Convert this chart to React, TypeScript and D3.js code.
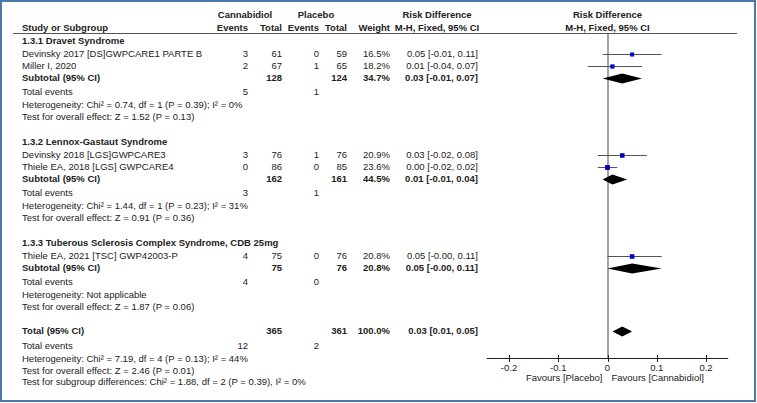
import React from "react";
import * as d3 from "d3";

// ---------- data ----------
const groupTitles = [
  "1.3.1 Dravet Syndrome",
  "1.3.2 Lennox-Gastaut Syndrome",
  "1.3.3 Tuberous Sclerosis Complex Syndrome, CDB 25mg",
];

const studyNames = [
  "Devinsky 2017 [DS]GWPCARE1 PARTE B",
  "Miller I, 2020",
  "Devinsky 2018 [LGS]GWPCARE3",
  "Thiele EA, 2018 [LGS] GWPCARE4",
  "Thiele EA, 2021 [TSC] GWP42003-P",
];
const studyGroup = [0, 0, 1, 1, 2];
const cbdEvents = [3, 2, 3, 0, 4];
const cbdTotal = [61, 67, 76, 86, 75];
const plcEvents = [0, 1, 1, 0, 0];
const plcTotal = [59, 65, 76, 85, 76];
const studyWeight = [16.5, 18.2, 20.9, 23.6, 20.8];
const studyRD = [0.05, 0.01, 0.03, 0.0, 0.05];
const studyLo = [-0.01, -0.04, -0.02, -0.02, -0.0];
const studyHi = [0.11, 0.07, 0.08, 0.02, 0.11];

const subCbdTotal = [128, 162, 75];
const subPlcTotal = [124, 161, 76];
const subWeight = [34.7, 44.5, 20.8];
const subRD = [0.03, 0.01, 0.05];
const subLo = [-0.01, -0.01, -0.0];
const subHi = [0.07, 0.04, 0.11];
const subCbdEvents = [5, 3, 4];
const subPlcEvents = [1, 1, 0];
const subHet = [
  "Heterogeneity: Chi² = 0.74, df = 1 (P = 0.39); I² = 0%",
  "Heterogeneity: Chi² = 1.44, df = 1 (P = 0.23); I² = 31%",
  "Heterogeneity: Not applicable",
];
const subTest = [
  "Test for overall effect: Z = 1.52 (P = 0.13)",
  "Test for overall effect: Z = 0.91 (P = 0.36)",
  "Test for overall effect: Z = 1.87 (P = 0.06)",
];

const totalCbdTotal = 365;
const totalPlcTotal = 361;
const totalWeight = 100.0;
const totalRD = 0.03;
const totalLo = 0.01;
const totalHi = 0.05;
const totalCbdEvents = 12;
const totalPlcEvents = 2;
const totalHet = "Heterogeneity: Chi² = 7.19, df = 4 (P = 0.13); I² = 44%";
const totalTest = "Test for overall effect: Z = 2.46 (P = 0.01)";
const subgroupTest = "Test for subgroup differences: Chi² = 1.88, df = 2 (P = 0.39), I² = 0%";

const axisTicks = [-0.2, -0.1, 0, 0.1, 0.2];
const favoursLeft = "Favours [Placebo]";
const favoursRight = "Favours [Cannabidiol]";

// ---------- helpers ----------
const f2 = (v: number) => (v < 0 || Object.is(v, -0) ? "-" : "") + Math.abs(v).toFixed(2);
const ciText = (rd: number, lo: number, hi: number) => `${f2(rd)} [${f2(lo)}, ${f2(hi)}]`;
const tickFmt = (v: number) => (v === 0 ? "0" : String(v));

const FONT = "'Liberation Sans', Arial, sans-serif";
const FS = 9.5;
const TXT = "#222";

// column anchors (layout)
const COL = {
  left: 22,
  cbdEv: 248,
  cbdTot: 282,
  plcEv: 319,
  plcTot: 347,
  weight: 390,
  ci: 478,
  ciCenter: 437,
};

type Row =
  | { kind: "group"; g: number }
  | { kind: "study"; i: number }
  | { kind: "sub"; g: number }
  | { kind: "te"; g: number }
  | { kind: "het"; g: number }
  | { kind: "test"; g: number }
  | { kind: "total" }
  | { kind: "tte" }
  | { kind: "thet" }
  | { kind: "ttest" }
  | { kind: "sgtest" };

function buildRows() {
  const rows: { row: Row; y: number }[] = [];
  let y = 41;
  let prev: string | null = null;
  const step: Record<string, number> = {
    "group>study": 13,
    "study>study": 12,
    "study>sub": 12,
    "sub>te": 14,
    "te>het": 13,
    "het>test": 12,
    "test>group": 25,
    "test>total": 24,
    "total>tte": 15,
    "tte>thet": 13,
    "thet>ttest": 12,
    "ttest>sgtest": 11,
  };
  const push = (row: Row) => {
    if (prev !== null) y += step[`${prev}>${row.kind}`] ?? 12;
    rows.push({ row, y });
    prev = row.kind;
  };
  groupTitles.forEach((_, g) => {
    push({ kind: "group", g });
    studyNames.forEach((_, i) => {
      if (studyGroup[i] === g) push({ kind: "study", i });
    });
    push({ kind: "sub", g });
    push({ kind: "te", g });
    push({ kind: "het", g });
    push({ kind: "test", g });
  });
  push({ kind: "total" });
  push({ kind: "tte" });
  push({ kind: "thet" });
  push({ kind: "ttest" });
  push({ kind: "sgtest" });
  return rows;
}

function T(props: {
  x: number;
  y: number;
  anchor?: "start" | "middle" | "end";
  bold?: boolean;
  children: React.ReactNode;
}) {
  return (
    <text
      x={props.x}
      y={props.y}
      dy="0.35em"
      textAnchor={props.anchor ?? "end"}
      fontWeight={props.bold ? "bold" : "normal"}
      fill={TXT}
    >
      {props.children}
    </text>
  );
}

export default function App() {
  const W = 757;
  const H = 403;
  const x = d3.scaleLinear().domain([-0.2, 0.2]).range([509, 706]);
  const headerLineY = 33;
  const axisY = 358;
  const rows = buildRows();

  const diamond = (rd: number, lo: number, hi: number, cy: number, h = 5) => {
    const p = d3.path();
    p.moveTo(x(lo), cy);
    p.lineTo(x(rd), cy - h);
    p.lineTo(x(hi), cy);
    p.lineTo(x(rd), cy + h);
    p.closePath();
    return p.toString();
  };

  return (
    <svg
      width={W}
      height={H}
      style={{ position: "absolute", left: 0, top: 0, background: "#fff" }}
      fontFamily={FONT}
      fontSize={FS}
    >
      <rect x={1} y={1} width={W - 3} height={H - 3} fill="#fff" stroke="#4a78aa" strokeWidth={2} />

      {/* headers */}
      <T x={245} y={15} anchor="middle" bold>Cannabidiol</T>
      <T x={316} y={15} anchor="middle" bold>Placebo</T>
      <T x={COL.ciCenter} y={15} anchor="middle" bold>Risk Difference</T>
      <T x={x(0)} y={15} anchor="middle" bold>Risk Difference</T>
      <T x={COL.left} y={28} anchor="start" bold>Study or Subgroup</T>
      <T x={COL.cbdEv} y={28} bold>Events</T>
      <T x={COL.cbdTot} y={28} bold>Total</T>
      <T x={COL.plcEv} y={28} bold>Events</T>
      <T x={COL.plcTot} y={28} bold>Total</T>
      <T x={COL.weight} y={28} bold>Weight</T>
      <T x={COL.ciCenter} y={28} anchor="middle" bold>M-H, Fixed, 95% CI</T>
      <T x={x(0)} y={28} anchor="middle" bold>M-H, Fixed, 95% CI</T>
      <line x1={13} x2={737} y1={headerLineY + 0.5} y2={headerLineY + 0.5} stroke="#555" />

      {/* zero line */}
      <line x1={x(0) + 0.5} x2={x(0) + 0.5} y1={headerLineY} y2={axisY} stroke="#444" />

      {rows.map(({ row, y }, k) => {
        switch (row.kind) {
          case "group":
            return <T key={k} x={COL.left} y={y} anchor="start" bold>{groupTitles[row.g]}</T>;
          case "study": {
            const i = row.i;
            const s = Math.sqrt(studyWeight[i]);
            return (
              <g key={k}>
                <T x={COL.left} y={y} anchor="start">{studyNames[i]}</T>
                <T x={COL.cbdEv} y={y}>{cbdEvents[i]}</T>
                <T x={COL.cbdTot} y={y}>{cbdTotal[i]}</T>
                <T x={COL.plcEv} y={y}>{plcEvents[i]}</T>
                <T x={COL.plcTot} y={y}>{plcTotal[i]}</T>
                <T x={COL.weight} y={y}>{studyWeight[i].toFixed(1)}%</T>
                <T x={COL.ci} y={y}>{ciText(studyRD[i], studyLo[i], studyHi[i])}</T>
                <line x1={x(studyLo[i])} x2={x(studyHi[i])} y1={y + 0.5} y2={y + 0.5} stroke="#555" />
                <rect x={x(studyRD[i]) - s / 2} y={y + 0.5 - s / 2} width={s} height={s} fill="#0000c8" />
              </g>
            );
          }
          case "sub": {
            const g = row.g;
            return (
              <g key={k}>
                <T x={COL.left} y={y} anchor="start" bold>Subtotal (95% CI)</T>
                <T x={COL.cbdTot} y={y} bold>{subCbdTotal[g]}</T>
                <T x={COL.plcTot} y={y} bold>{subPlcTotal[g]}</T>
                <T x={COL.weight} y={y} bold>{subWeight[g].toFixed(1)}%</T>
                <T x={COL.ci} y={y} bold>{ciText(subRD[g], subLo[g], subHi[g])}</T>
                <path d={diamond(subRD[g], subLo[g], subHi[g], y + 0.5)} fill="#000" />
              </g>
            );
          }
          case "te":
            return (
              <g key={k}>
                <T x={COL.left} y={y} anchor="start">Total events</T>
                <T x={COL.cbdEv} y={y}>{subCbdEvents[row.g]}</T>
                <T x={COL.plcEv} y={y}>{subPlcEvents[row.g]}</T>
              </g>
            );
          case "het":
            return <T key={k} x={COL.left} y={y} anchor="start">{subHet[row.g]}</T>;
          case "test":
            return <T key={k} x={COL.left} y={y} anchor="start">{subTest[row.g]}</T>;
          case "total":
            return (
              <g key={k}>
                <T x={COL.left} y={y} anchor="start" bold>Total (95% CI)</T>
                <T x={COL.cbdTot} y={y} bold>{totalCbdTotal}</T>
                <T x={COL.plcTot} y={y} bold>{totalPlcTotal}</T>
                <T x={COL.weight} y={y} bold>{totalWeight.toFixed(1)}%</T>
                <T x={COL.ci} y={y} bold>{ciText(totalRD, totalLo, totalHi)}</T>
                <path d={diamond(totalRD, totalLo, totalHi, y + 0.5)} fill="#000" />
              </g>
            );
          case "tte":
            return (
              <g key={k}>
                <T x={COL.left} y={y} anchor="start">Total events</T>
                <T x={COL.cbdEv} y={y}>{totalCbdEvents}</T>
                <T x={COL.plcEv} y={y}>{totalPlcEvents}</T>
              </g>
            );
          case "thet":
            return <T key={k} x={COL.left} y={y} anchor="start">{totalHet}</T>;
          case "ttest":
            return <T key={k} x={COL.left} y={y} anchor="start">{totalTest}</T>;
          case "sgtest":
            return <T key={k} x={COL.left} y={y} anchor="start">{subgroupTest}</T>;
        }
        return null;
      })}

      {/* axis */}
      <line x1={x(-0.245)} x2={x(0.245)} y1={axisY + 0.5} y2={axisY + 0.5} stroke="#222" />
      {axisTicks.map((t) => (
        <g key={t}>
          <line x1={Math.round(x(t)) + 0.5} x2={Math.round(x(t)) + 0.5} y1={axisY - 3} y2={axisY + 4} stroke="#222" />
          <T x={x(t)} y={axisY + 10} anchor="middle">{tickFmt(t)}</T>
        </g>
      ))}
      <T x={x(0) - 5} y={axisY + 20} anchor="end">{favoursLeft}</T>
      <T x={x(0) + 4} y={axisY + 20} anchor="start">{favoursRight}</T>
    </svg>
  );
}
